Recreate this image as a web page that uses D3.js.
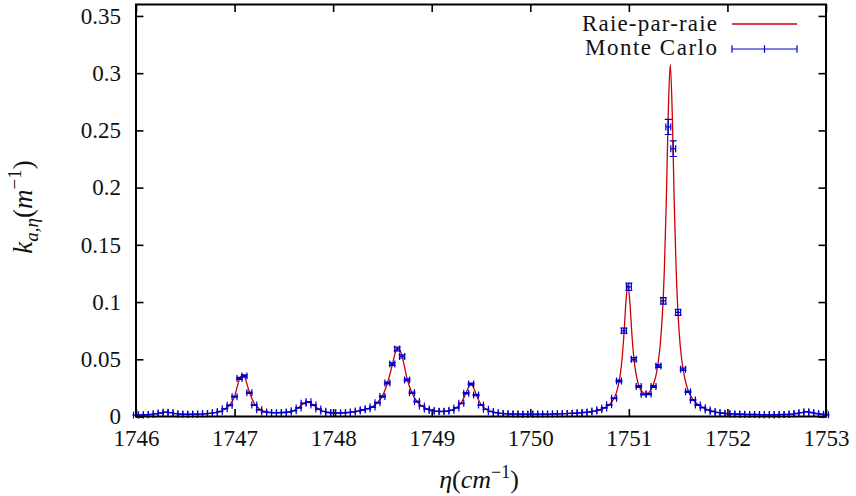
<!DOCTYPE html>
<html><head><meta charset="utf-8">
<script src="https://cdn.jsdelivr.net/npm/d3@7/dist/d3.min.js"></script>
<style>
body{margin:0;background:#fff}
svg{display:block}
text{font-family:"Liberation Serif","DejaVu Serif",serif;fill:#111}
</style>
</head><body>
<svg id="chart" width="856" height="496"></svg>
<script>
// ---------- data ----------
const xTicks = [1746, 1747, 1748, 1749, 1750, 1751, 1752, 1753];
const xTickLabels = ["1746", "1747", "1748", "1749", "1750", "1751", "1752", "1753"];
const yTicks = [0, 0.05, 0.1, 0.15, 0.2, 0.25, 0.3, 0.35];
const yTickLabels = ["0", "0.05", "0.1", "0.15", "0.2", "0.25", "0.3", "0.35"];
const seriesNames = ["Raie-par-raie", "Monte Carlo"];

// Raie-par-raie (line-by-line) spectrum
const lineX = [1746.00,1746.10,1746.20,1746.25,1746.30,1746.35,1746.40,1746.50,1746.60,1746.70,
  1746.80,1746.85,1746.90,1746.95,1747.00,1747.03,1747.06,1747.08,1747.10,1747.13,
  1747.16,1747.20,1747.25,1747.30,1747.40,1747.50,1747.55,1747.60,1747.65,1747.70,
  1747.73,1747.76,1747.80,1747.85,1747.90,1748.00,1748.10,1748.20,1748.30,1748.35,
  1748.40,1748.45,1748.50,1748.55,1748.60,1748.63,1748.66,1748.69,1748.72,1748.75,
  1748.80,1748.85,1748.90,1748.95,1749.00,1749.10,1749.20,1749.25,1749.30,1749.35,
  1749.38,1749.40,1749.43,1749.46,1749.50,1749.55,1749.60,1749.70,1749.80,1749.90,
  1750.00,1750.20,1750.40,1750.50,1750.60,1750.70,1750.75,1750.80,1750.85,1750.88,
  1750.91,1750.93,1750.95,1750.97,1750.99,1751.01,1751.03,1751.05,1751.08,1751.11,
  1751.14,1751.17,1751.20,1751.23,1751.26,1751.28,1751.30,1751.32,1751.34,1751.36,
  1751.38,1751.40,1751.42,1751.44,1751.46,1751.48,1751.50,1751.52,1751.54,1751.57,
  1751.60,1751.65,1751.70,1751.75,1751.80,1751.85,1751.90,1752.00,1752.10,1752.20,
  1752.30,1752.40,1752.50,1752.60,1752.65,1752.70,1752.75,1752.80,1752.85,1752.90,
  1752.95,1753.00];
const lineY = [0.0013,0.0015,0.0023,0.0031,0.0037,0.0033,0.0025,0.0019,0.0020,0.0023,
  0.0033,0.0043,0.0064,0.0100,0.0175,0.0270,0.0345,0.0362,0.0350,0.0270,
  0.0190,0.0115,0.0068,0.0046,0.0034,0.0035,0.0040,0.0052,0.0078,0.0113,
  0.0126,0.0122,0.0098,0.0065,0.0045,0.0032,0.0032,0.0039,0.0056,0.0068,
  0.0086,0.0122,0.0178,0.0290,0.0450,0.0555,0.0595,0.0555,0.0450,0.0330,
  0.0205,0.0132,0.0094,0.0068,0.0054,0.0045,0.0056,0.0077,0.0120,0.0210,
  0.0268,0.0278,0.0240,0.0172,0.0105,0.0064,0.0045,0.0028,0.0022,0.0020,
  0.0019,0.0021,0.0027,0.0032,0.0040,0.0058,0.0075,0.0102,0.0159,0.0226,
  0.0350,0.0492,0.0716,0.0996,0.1153,0.1003,0.0730,0.0517,0.0337,0.0252,
  0.0212,0.0200,0.0208,0.0245,0.0310,0.0380,0.0485,0.0646,0.0890,0.1280,
  0.1890,0.2660,0.3076,0.2655,0.1884,0.1273,0.0879,0.0631,0.0472,0.0325,
  0.0230,0.0150,0.0106,0.0079,0.0060,0.0046,0.0037,0.0027,0.0022,0.0019,
  0.0017,0.0016,0.0016,0.0018,0.0021,0.0026,0.0034,0.0041,0.0035,0.0026,
  0.0020,0.0016];

// Monte Carlo estimates (bin centres, values, statistical errors)
const mcX = [1746.00,1746.05,1746.10,1746.15,1746.20,1746.25,1746.30,1746.35,1746.40,1746.45,
  1746.50,1746.55,1746.60,1746.65,1746.70,1746.75,1746.80,1746.85,1746.90,1746.95,
  1747.00,1747.05,1747.10,1747.15,1747.20,1747.25,1747.30,1747.35,1747.40,1747.45,
  1747.50,1747.55,1747.60,1747.65,1747.70,1747.75,1747.80,1747.85,1747.90,1747.95,
  1748.00,1748.05,1748.10,1748.15,1748.20,1748.25,1748.30,1748.35,1748.40,1748.45,
  1748.50,1748.55,1748.60,1748.65,1748.70,1748.75,1748.80,1748.85,1748.90,1748.95,
  1749.00,1749.05,1749.10,1749.15,1749.20,1749.25,1749.30,1749.35,1749.40,1749.45,
  1749.50,1749.55,1749.60,1749.65,1749.70,1749.75,1749.80,1749.85,1749.90,1749.95,
  1750.00,1750.05,1750.10,1750.15,1750.20,1750.25,1750.30,1750.35,1750.40,1750.45,
  1750.50,1750.55,1750.60,1750.65,1750.70,1750.75,1750.80,1750.85,1750.90,1750.95,
  1751.00,1751.05,1751.10,1751.15,1751.20,1751.25,1751.30,1751.35,1751.40,1751.45,
  1751.50,1751.55,1751.60,1751.65,1751.70,1751.75,1751.80,1751.85,1751.90,1751.95,
  1752.00,1752.05,1752.10,1752.15,1752.20,1752.25,1752.30,1752.35,1752.40,1752.45,
  1752.50,1752.55,1752.60,1752.65,1752.70,1752.75,1752.80,1752.85,1752.90,1752.95,
  1753.00];
const mcY = [0.0013,0.0014,0.0015,0.0018,0.0023,0.0031,0.0038,0.0034,0.0025,0.0020,
  0.0019,0.0019,0.0020,0.0021,0.0023,0.0027,0.0034,0.0044,0.0068,0.0098,
  0.0173,0.0333,0.0354,0.0208,0.0100,0.0058,0.0040,0.0034,0.0033,0.0033,
  0.0035,0.0040,0.0050,0.0075,0.0115,0.0128,0.0100,0.0065,0.0045,0.0035,
  0.0031,0.0031,0.0032,0.0035,0.0040,0.0047,0.0058,0.0068,0.0082,0.0120,
  0.0175,0.0292,0.0458,0.0590,0.0525,0.0320,0.0208,0.0130,0.0092,0.0065,
  0.0052,0.0045,0.0043,0.0046,0.0055,0.0075,0.0115,0.0203,0.0284,0.0188,
  0.0100,0.0063,0.0044,0.0032,0.0027,0.0024,0.0022,0.0021,0.0020,0.0019,
  0.0019,0.0019,0.0020,0.0020,0.0021,0.0022,0.0023,0.0025,0.0027,0.0029,
  0.0032,0.0035,0.0040,0.0047,0.0058,0.0075,0.0102,0.0159,0.0310,0.0750,
  0.1133,0.0500,0.0262,0.0194,0.0196,0.0262,0.0441,0.1010,0.2530,0.2340,
  0.0910,0.0413,0.0217,0.0144,0.0100,0.0077,0.0057,0.0043,0.0034,0.0028,
  0.0024,0.0022,0.0020,0.0019,0.0018,0.0017,0.0017,0.0016,0.0016,0.0016,
  0.0016,0.0017,0.0018,0.0021,0.0026,0.0034,0.0041,0.0035,0.0026,0.0020,
  0.0016];
const mcErr = [0.0001,0.0001,0.0001,0.0001,0.0001,0.0001,0.0001,0.0001,0.0001,0.0001,
  0.0001,0.0001,0.0001,0.0001,0.0001,0.0001,0.0001,0.0001,0.0002,0.0003,
  0.0005,0.0009,0.0010,0.0006,0.0003,0.0002,0.0001,0.0001,0.0001,0.0001,
  0.0001,0.0001,0.0001,0.0002,0.0003,0.0003,0.0003,0.0002,0.0001,0.0001,
  0.0001,0.0001,0.0001,0.0001,0.0001,0.0001,0.0002,0.0002,0.0002,0.0003,
  0.0005,0.0008,0.0012,0.0016,0.0014,0.0009,0.0006,0.0004,0.0002,0.0002,
  0.0001,0.0001,0.0001,0.0001,0.0001,0.0002,0.0003,0.0005,0.0008,0.0005,
  0.0003,0.0002,0.0001,0.0001,0.0001,0.0001,0.0001,0.0001,0.0001,0.0001,
  0.0001,0.0001,0.0001,0.0001,0.0001,0.0001,0.0001,0.0001,0.0001,0.0001,
  0.0001,0.0001,0.0001,0.0001,0.0002,0.0002,0.0003,0.0004,0.0008,0.0022,
  0.0032,0.0015,0.0007,0.0005,0.0005,0.0007,0.0012,0.0028,0.0066,0.0068,
  0.0027,0.0011,0.0006,0.0004,0.0003,0.0002,0.0002,0.0001,0.0001,0.0001,
  0.0001,0.0001,0.0001,0.0001,0.0001,0.0001,0.0001,0.0001,0.0001,0.0001,
  0.0001,0.0001,0.0001,0.0001,0.0001,0.0001,0.0001,0.0001,0.0001,0.0001,
  0.0001];
const mcBinHalfWidth = 0.025;

// ---------- layout / style ----------
const L = 136, R = 826, T = 4.5, B = 416.5;
const red = "#cc0000", blue = "#0000cc";
const cap = 3.5, tick = 7.5;
const FONT = '"Liberation Serif","DejaVu Serif",serif';

const svg = d3.select("#chart");
const x = d3.scaleLinear().domain([1746, 1753]).range([L, R]);
const y = d3.scaleLinear().domain([0, 0.36]).range([B, T]);

function styleAxis(g, labels) {
  g.attr("font-family", FONT).attr("font-size", 23);
  g.select(".domain").remove();
  g.selectAll(".tick line").attr("stroke", "#000").attr("stroke-width", 1.6);
  g.selectAll(".tick text").attr("fill", "#111");
  if (!labels) g.selectAll(".tick text").remove();
}
svg.append("g").attr("transform", `translate(0,${B})`)
  .call(d3.axisBottom(x).tickValues(xTicks).tickFormat((d, i) => xTickLabels[i])
    .tickSizeInner(-tick).tickSizeOuter(0).tickPadding(13))
  .call(g => styleAxis(g, true));
svg.append("g").attr("transform", `translate(0,${T})`)
  .call(d3.axisTop(x).tickValues(xTicks).tickSizeInner(-tick).tickSizeOuter(0))
  .call(g => styleAxis(g, false));
svg.append("g").attr("transform", `translate(${L},0)`)
  .call(d3.axisLeft(y).tickValues(yTicks).tickFormat((d, i) => yTickLabels[i])
    .tickSizeInner(-tick).tickSizeOuter(0).tickPadding(15))
  .call(g => styleAxis(g, true));
svg.append("g").attr("transform", `translate(${R},0)`)
  .call(d3.axisRight(y).tickValues(yTicks).tickSizeInner(-tick).tickSizeOuter(0))
  .call(g => styleAxis(g, false));

// line-by-line curve
const lineData = lineX.map((v, i) => [v, lineY[i]]);
svg.append("path").datum(lineData)
  .attr("fill", "none").attr("stroke", red).attr("stroke-width", 1.3)
  .attr("d", d3.line().x(d => x(d[0])).y(d => y(d[1])).curve(d3.curveMonotoneX));

// Monte Carlo xy error bars
const mc = mcX.map((v, i) => ({x: v, y: mcY[i], e: mcErr[i]}));
svg.append("g").selectAll("path").data(mc).join("path")
  .attr("fill", "none").attr("stroke", blue).attr("stroke-width", 1.2)
  .attr("d", d => {
    const x0 = x(d.x - mcBinHalfWidth), x1 = x(d.x + mcBinHalfWidth), xc = x(d.x);
    const yc = y(d.y), yt = y(d.y + d.e), yb = y(d.y - d.e);
    return `M${x0},${yc}H${x1}M${x0},${yc - cap}V${yc + cap}M${x1},${yc - cap}V${yc + cap}` +
      `M${xc},${yt}V${yb}M${xc - cap},${yt}H${xc + cap}M${xc - cap},${yb}H${xc + cap}`;
  });

// frame
svg.append("rect").attr("x", L).attr("y", T).attr("width", R - L).attr("height", B - T)
  .attr("fill", "none").attr("stroke", "#000").attr("stroke-width", 2);

// legend
const lgX0 = 732, lgX1 = 797, lgTextX = 717;
const lg = svg.append("g").attr("font-family", FONT).attr("font-size", 23);
lg.append("text").attr("x", lgTextX).attr("y", 31).attr("text-anchor", "end")
  .attr("textLength", 135).attr("lengthAdjust", "spacing").text(seriesNames[0]);
lg.append("line").attr("x1", lgX0).attr("x2", lgX1).attr("y1", 24).attr("y2", 24)
  .attr("stroke", red).attr("stroke-width", 1.3);
lg.append("text").attr("x", lgTextX).attr("y", 55).attr("text-anchor", "end")
  .attr("textLength", 132).attr("lengthAdjust", "spacing").text(seriesNames[1]);
const lgm = (lgX0 + lgX1) / 2;
lg.append("path").attr("fill", "none").attr("stroke", blue).attr("stroke-width", 1.2)
  .attr("d", `M${lgX0},49H${lgX1}M${lgX0},${49 - 3.8}V${49 + 3.8}M${lgX1},${49 - 3.8}V${49 + 3.8}M${lgm},${49 - 3.8}V${49 + 3.8}`);

// axis titles
const xt = svg.append("text").attr("x", 479).attr("y", 488).attr("text-anchor", "middle")
  .attr("font-family", FONT).attr("font-size", 26);
xt.append("tspan").attr("font-style", "italic").text("η");
xt.append("tspan").text("(");
xt.append("tspan").attr("font-style", "italic").text("cm");
xt.append("tspan").attr("dy", -10).attr("font-size", 18).text("−1");
xt.append("tspan").attr("dy", 10).text(")");

const yt = svg.append("text").attr("transform", "translate(32,207) rotate(-90)")
  .attr("text-anchor", "middle").attr("font-family", FONT).attr("font-size", 27);
yt.append("tspan").attr("font-style", "italic").text("k");
yt.append("tspan").attr("dy", 6).attr("font-size", 19).attr("font-style", "italic").text("a,η");
yt.append("tspan").attr("dy", -6).text("(");
yt.append("tspan").attr("font-style", "italic").text("m");
yt.append("tspan").attr("dy", -11).attr("font-size", 19).text("−1");
yt.append("tspan").attr("dy", 11).text(")");
</script>
</body></html>
